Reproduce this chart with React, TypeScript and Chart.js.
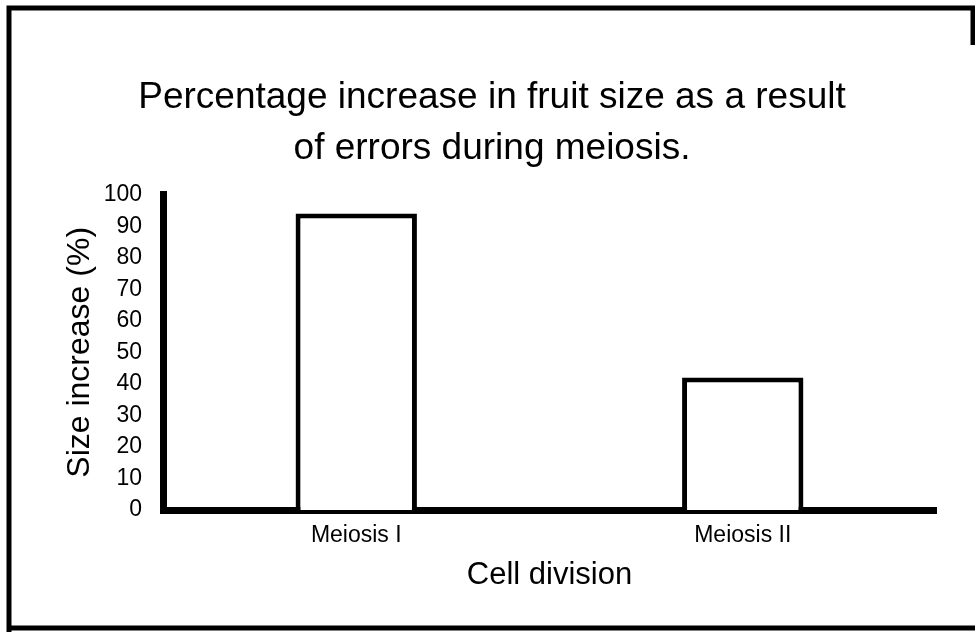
import React, { useEffect, useRef } from "react";
import { Chart, registerables } from "chart.js";

Chart.register(...registerables);

const categories = ["Meiosis I", "Meiosis II"];
const sizeIncrease = [94, 42];
const titleLines = ["Percentage increase in fruit size as a result", "of errors during meiosis."];
const yAxisTitle = "Size increase (%)";
const xAxisTitle = "Cell division";
const yMin = 0;
const yMax = 100;
const yStep = 10;

const FONT = "'Liberation Sans', Arial, Helvetica, sans-serif";

const framePlugin = {
  id: "frame",
  afterDraw(chart: any) {
    const ctx = chart.ctx;
    ctx.save();
    ctx.strokeStyle = "#000";
    ctx.lineWidth = 5;
    ctx.beginPath();
    ctx.moveTo(9, 632);
    ctx.lineTo(9, 8);
    ctx.lineTo(975, 8);
    ctx.moveTo(9, 628);
    ctx.lineTo(975, 628);
    ctx.moveTo(973, 8);
    ctx.lineTo(973, 45);
    ctx.stroke();
    ctx.restore();
  },
};

export default function App() {
  const ref = useRef<HTMLCanvasElement | null>(null);

  useEffect(() => {
    if (!ref.current) return;
    Chart.defaults.color = "#000";
    const chart = new Chart(ref.current, {
      type: "bar",
      data: {
        labels: categories,
        datasets: [
          {
            data: sizeIncrease,
            backgroundColor: "#fff",
            borderColor: "#000",
            borderWidth: 5,
            barPercentage: 0.314,
            categoryPercentage: 1,
            yAxisID: "y",
          },
        ],
      },
      options: {
        responsive: false,
        animation: false,
        layout: { padding: { left: 9, right: 0, top: 0, bottom: 0 } },
        plugins: {
          legend: { display: false },
          tooltip: { enabled: false },
          title: {
            display: true,
            text: titleLines,
            color: "#000",
            font: { family: FONT, size: 37, weight: "normal", lineHeight: 1.36 },
            padding: { top: 73, bottom: 21 },
          },
        },
        scales: {
          x: {
            grid: { display: false, drawTicks: false },
            border: { display: true, color: "#000", width: 7 },
            ticks: { color: "#000", font: { family: FONT, size: 23 }, padding: 12 },
            title: {
              display: true,
              text: xAxisTitle,
              color: "#000",
              font: { family: FONT, size: 31, lineHeight: 1 },
              padding: { top: 0, bottom: 43 },
            },
            afterFit(scale: any) {
              scale.height = 124;
            },
          },
          y: {
            position: "left",
            min: yMin,
            max: yMax,
            grid: { display: false, drawTicks: false },
            border: { display: true, color: "#000", width: 7 },
            ticks: { stepSize: yStep, color: "#000", font: { family: FONT, size: 23 }, padding: 21 },
            title: {
              display: true,
              text: yAxisTitle,
              color: "#000",
              font: { family: FONT, size: 32, lineHeight: 1 },
              padding: { top: 55, bottom: 0 },
            },
            afterFit(scale: any) {
              scale.width = 154;
            },
          },
          spacer: {
            position: "right",
            display: true,
            min: yMin,
            max: yMax,
            grid: { display: false, drawTicks: false },
            border: { display: false },
            ticks: { display: false },
            afterFit(scale: any) {
              scale.width = 39;
            },
          },
        },
      },
      plugins: [framePlugin],
    });
    return () => chart.destroy();
  }, []);

  return (
    <div style={{ position: "absolute", left: 0, top: 0, width: 975, height: 634, background: "#fff" }}>
      <canvas ref={ref} width={975} height={634} />
    </div>
  );
}
